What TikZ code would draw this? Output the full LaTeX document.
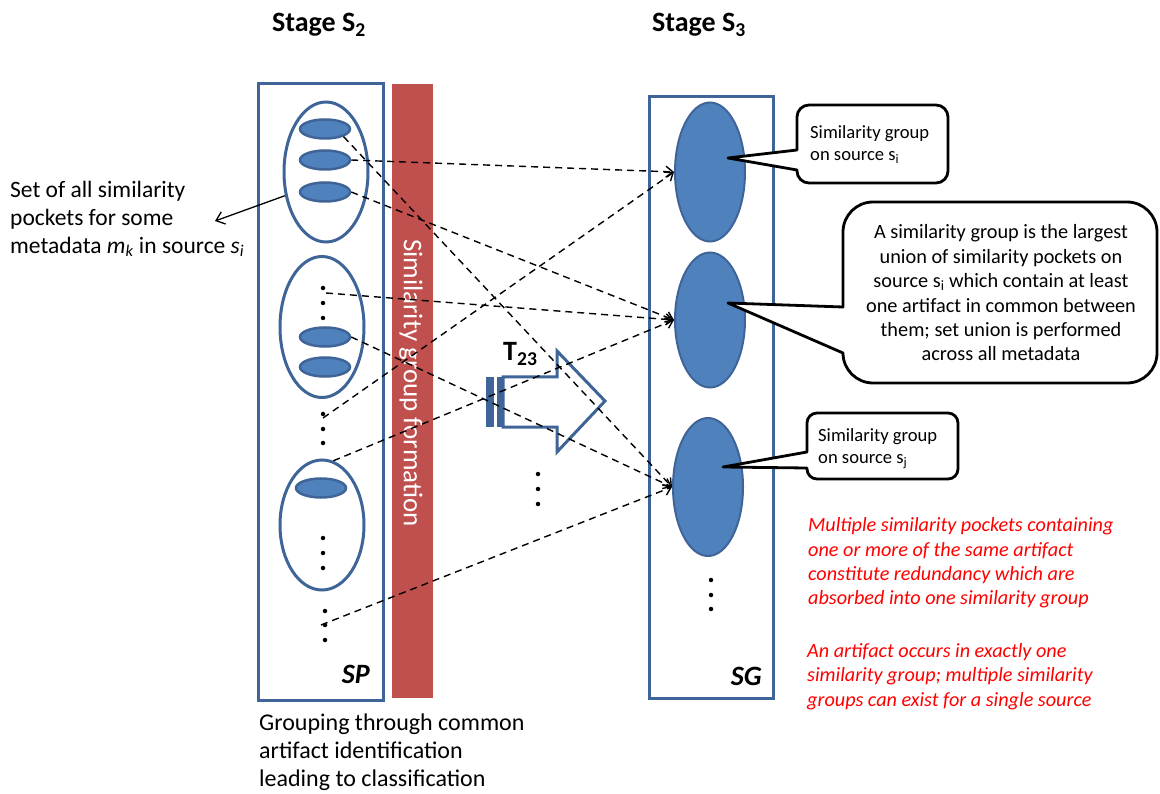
\documentclass[tikz,border=0pt]{standalone}
\usepackage{fontspec}
\setmainfont{Carlito}
\usetikzlibrary{arrows.meta,shapes.geometric}
\definecolor{fillblue}{HTML}{4F81BD}
\definecolor{lineblue}{HTML}{3F6497}
\definecolor{barred}{HTML}{C0504D}
\definecolor{notered}{HTML}{FF0000}
\newcommand{\sizeat}[2]{\fontsize{#1}{#2}\selectfont}

\begin{document}
\begin{tikzpicture}[x=1pt,y=-1pt,
  title/.style={font=\sizeat{28}{33}\bfseries,inner sep=0pt},
  boxlabel/.style={font=\sizeat{28}{33}\bfseries\itshape,inner sep=0pt},
  plain/.style={font=\sizeat{23.5}{27.8},align=left,inner sep=0pt},
  stagebox/.style={rectangle,draw=lineblue,line width=3pt,inner sep=0pt},
  pocketset/.style={ellipse,draw=lineblue,line width=3pt,inner sep=0pt,minimum width=84pt},
  pocket/.style={ellipse,draw=lineblue,fill=fillblue,line width=2.5pt,inner sep=0pt,minimum width=50pt,minimum height=19pt},
  simgroup/.style={ellipse,draw=lineblue,fill=fillblue,line width=2pt,inner sep=0pt,minimum width=70pt},
  vdot/.style={circle,fill=black,inner sep=0pt,minimum size=4.5pt},
  link/.style={line width=1.4pt,dash pattern=on 7pt off 5pt,
    -{Straight Barb[length=7pt,width=11pt,line width=1.4pt]}},
  pointer/.style={line width=1.3pt,-{Straight Barb[length=8pt,width=13pt,line width=1.3pt]}},
  callout/.style={draw=black,fill=white,line width=2.8pt,line join=round},
  callouttext/.style={font=\sizeat{18.6}{22},align=left,inner sep=0pt},
  note/.style={font=\sizeat{20.2}{24.4}\itshape,text=notered,align=left,inner sep=0pt},
  transfer/.style={draw=lineblue,line width=3pt,line join=miter}
]
\useasboundingbox (0,0) rectangle (1160,794);

% stage titles
\node[title,anchor=base west] (st2) at (272,32) {Stage S\textsubscript{2}};
\node[title,anchor=base west] (st3) at (652,32) {Stage S\textsubscript{3}};

% stage S2: similarity pockets
\node[stagebox,minimum width=125pt,minimum height=616pt] (spbox) at (320.5,392) {};
\node[rectangle,fill=barred,minimum width=41pt,minimum height=614pt,inner sep=0pt] (bar) at (412.5,391) {};
\node[font=\sizeat{27}{32},text=white,rotate=-90,inner sep=0pt] (bartext) at (411,383) {Similarity group formation};

\node[pocketset,minimum height=140pt] (set1) at (326,172) {};
\node[pocketset,minimum height=141pt] (set2) at (322,327) {};
\node[pocketset,minimum height=130pt] (set3) at (322,525) {};

\node[pocket] (p1) at (325,129) {};
\node[pocket] (p2) at (325,160) {};
\node[pocket] (p3) at (325,192) {};
\node[pocket] (p4) at (325,337) {};
\node[pocket] (p5) at (325,367) {};
\node[pocket] (p6) at (321,488) {};

\foreach \yy [count=\i] in {288,303,318} \node[vdot] (da\i) at (323,\yy) {};
\foreach \yy [count=\i] in {414,429,443} \node[vdot] (db\i) at (323,\yy) {};
\foreach \yy [count=\i] in {538,553,568} \node[vdot] (dc\i) at (323,\yy) {};
\foreach \yy [count=\i] in {611,625,640} \node[vdot] (dd\i) at (325,\yy) {};

\node[boxlabel,anchor=base east] (sp) at (370,683) {SP};

% stage S3: similarity groups
\node[stagebox,minimum width=124pt,minimum height=601pt] (sgbox) at (711,397.5) {};
\node[simgroup,minimum height=139pt] (gA) at (710,172) {};
\node[simgroup,minimum height=135pt] (gB) at (710,320) {};
\node[simgroup,minimum height=138pt] (gC) at (708,487) {};
\foreach \yy [count=\i] in {580,595,609} \node[vdot] (de\i) at (711,\yy) {};
\node[boxlabel,anchor=base east] (sg) at (762,685) {SG};

% transition T23
\fill[lineblue] (486,377) rectangle (494,427);
\fill[lineblue] (497,377) rectangle (502,427);
\draw[transfer] (503,377) -- (557,377) -- (557,351) -- (605,401) -- (557,452) -- (557,427) -- (503,427) -- cycle;
\node[title,anchor=base west] (t23) at (503,361) {T\textsubscript{23}};
\foreach \yy [count=\i] in {474,489,504} \node[vdot] (df\i) at (538,\yy) {};

% start points of the grouping links
\coordinate (s4) at (326,293);
\coordinate (s6) at (323,418);
\coordinate (s8) at (321,625);

\draw[link] (p2.east) -- (gA.west);
\draw[link] (p1.south east) -- (gC.west);
\draw[link] (p3.east) -- (gB.west);
\draw[link] (s4) -- (gB.west);
\draw[link] (p4.east) -- (gC.west);
\draw[link] (s6) -- (gA.west);
\draw[link] (set3.80) -- (gB.west);
\draw[link] (s8) -- (gC.west);

% left annotation
\node[plain,anchor=west] (lefttext) at (10,219)
  {Set of all similarity\\pockets for some\\metadata \textit{m}\textsubscript{\textit{k}} in source \textit{s}\textsubscript{\textit{i}}};
\coordinate (leftend) at (215,221);
\draw[pointer] (set1.210) -- (leftend);

% bottom caption
\node[plain,font=\sizeat{24}{28},anchor=west] (caption) at (259,752.5)
  {Grouping through common\\artifact identification\\leading to classification};

% callouts
\draw[callout] (728,158) -- (797,150) [rounded corners=12pt] -- (797,105) -- (948,105) -- (948,183) -- (797,183) [sharp corners] -- (797,170) -- cycle;
\node[callouttext,anchor=west] (c1) at (810,145) {Similarity group\\on source s\textsubscript{i}};

\draw[callout] (728,303) -- (843,307) [rounded corners=30pt] -- (843,202) -- (1157,202) -- (1157,383) -- (843,383) [sharp corners] -- (843,353) -- cycle;
\node[font=\sizeat{20.3}{24.4},align=center,inner sep=0pt] (c2) at (1001,293)
  {A similarity group is the largest\\union of similarity pockets on\\source s\textsubscript{i} which contain at least\\one artifact in common between\\them; set union is performed\\across all metadata};

\draw[callout] (723,467) -- (807,452) [rounded corners=10pt] -- (807,413) -- (958,413) -- (958,479) -- (807,479) [sharp corners] -- (807,468) -- cycle;
\node[callouttext,anchor=west] (c3) at (818,448.5) {Similarity group\\on source s\textsubscript{j}};

% notes
\node[note,anchor=west] (n1) at (808,563)
  {Multiple similarity pockets containing\\one or more of the same artifact\\constitute redundancy which are\\absorbed into one similarity group};
\node[note,anchor=west] (n2) at (807,676.5)
  {An artifact occurs in exactly one\\similarity group; multiple similarity\\groups can exist for a single source};
\end{tikzpicture}
\end{document}
